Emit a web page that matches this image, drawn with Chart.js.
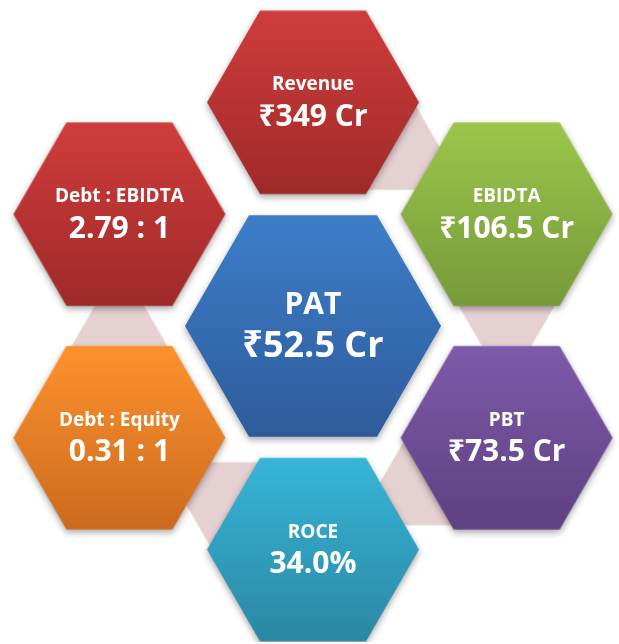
<!DOCTYPE html>
<html>
<head>
<meta charset="utf-8">
<script src="https://cdn.jsdelivr.net/npm/chart.js@4/dist/chart.umd.min.js"></script>
<style>
  html, body { margin: 0; padding: 0; background: #ffffff; }
  #wrap { width: 619px; height: 644px; position: relative; }
</style>
</head>
<body>
<div id="wrap"><canvas id="c"></canvas></div>
<script>
// ---- data ----
const centerNames  = ['PAT'];
const centerValues = [52.5];
const centerUnits  = ['cr'];
const metricNames  = ['Revenue', 'EBIDTA', 'PBT', 'ROCE', 'Debt : Equity', 'Debt : EBIDTA'];
const metricValues = [349, 106.5, 73.5, 34.0, 0.31, 2.79];
const metricUnits  = ['cr', 'cr', 'cr', 'pct', 'ratio', 'ratio'];

// ---- styles ----
const metricColors = [
  ['#CF3D3B', '#9F2A2A'],
  ['#9CC64B', '#769A3A'],
  ['#7E5AAA', '#5E4181'],
  ['#38B5D8', '#2A88A3'],
  ['#FE912E', '#CC6B1E'],
  ['#CF3D3B', '#9F2A2A']
];
const centerColors = [['#3D7EC9', '#2E5B9B']];
const connectorColor = '#E6D1D2';
const FONT = '"Open Sans", "Noto Sans", "DejaVu Sans", sans-serif';

function fmt(v, unit) {
  if (unit === 'cr') return '\u20B9' + v + ' Cr';
  if (unit === 'pct') return v.toFixed(1) + '%';
  return v.toFixed(2) + ' : 1';
}

// ---- layout (unit ring radius) ----
const n = metricNames.length;
const outerPts = metricNames.map((_, i) => {
  const a = (90 - 60 * i) * Math.PI / 180;
  return { x: Math.cos(a), y: Math.sin(a) };
});
const centerPts = centerNames.map(() => ({ x: 0, y: 0 }));
const tangentShift = 0.098;
// connectors between consecutive outer hexagons (no wrap-around)
const connectorPts = outerPts.slice(0, n - 1).map((p, i) => {
  const q = outerPts[i + 1];
  const mx = (p.x + q.x) / 2, my = (p.y + q.y) / 2;
  const len = Math.hypot(mx, my);
  const ux = mx / len, uy = my / len;
  return { x: mx - uy * tangentShift, y: my + ux * tangentShift };
});

function hexCanvas(r, c1, c2, shadow) {
  const m = 14;
  const size = Math.ceil(2 * (r + m));
  const cv = document.createElement('canvas');
  cv.width = size; cv.height = size;
  const ctx = cv.getContext('2d');
  const cx = size / 2, cy = size / 2;
  const h = r * Math.sqrt(3) / 2;
  ctx.beginPath();
  for (let k = 0; k < 6; k++) {
    const a = k * Math.PI / 3;
    const x = cx + r * Math.cos(a), y = cy + r * Math.sin(a);
    if (k === 0) ctx.moveTo(x, y); else ctx.lineTo(x, y);
  }
  ctx.closePath();
  const g = ctx.createLinearGradient(0, cy - h, 0, cy + h);
  g.addColorStop(0, c1);
  g.addColorStop(1, c2);
  ctx.fillStyle = g;
  if (shadow) {
    ctx.shadowColor = 'rgba(0,0,0,0.35)';
    ctx.shadowBlur = 7;
    ctx.shadowOffsetY = 3;
  }
  ctx.fill();
  return cv;
}

const outerStyles = metricColors.map(c => hexCanvas(106, c[0], c[1], true));
const centerStyles = centerColors.map(c => hexCanvas(128, c[0], c[1], true));
const connectorStyles = connectorPts.map(() => hexCanvas(49, connectorColor, connectorColor, false));

const textPlugin = {
  id: 'hexText',
  afterDatasetsDraw(chart) {
    const ctx = chart.ctx;
    ctx.save();
    ctx.fillStyle = '#ffffff';
    ctx.textAlign = 'center';
    ctx.textBaseline = 'alphabetic';
    const outerMeta = chart.getDatasetMeta(1);
    outerMeta.data.forEach((el, i) => {
      ctx.font = 'bold 19px ' + FONT;
      ctx.fillText(metricNames[i], el.x, el.y - 12);
      ctx.font = 'bold 30px ' + FONT;
      ctx.fillText(fmt(metricValues[i], metricUnits[i]), el.x, el.y + 23.5);
    });
    const cMeta = chart.getDatasetMeta(0);
    cMeta.data.forEach((el, i) => {
      ctx.font = 'bold 30px ' + FONT;
      ctx.fillText(centerNames[i], el.x, el.y - 12);
      ctx.font = 'bold 36px ' + FONT;
      ctx.fillText(fmt(centerValues[i], centerUnits[i]), el.x, el.y + 31);
    });
    ctx.restore();
  }
};

const W = 619, H = 644, CX = 313, CY = 326, RING = 225;

new Chart(document.getElementById('c'), {
  type: 'scatter',
  data: {
    datasets: [
      { label: 'center', data: centerPts, pointStyle: centerStyles, pointRadius: 1, pointHoverRadius: 1 },
      { label: 'metrics', data: outerPts, pointStyle: outerStyles, pointRadius: 1, pointHoverRadius: 1 },
      { label: 'connectors', data: connectorPts, pointStyle: connectorStyles, pointRadius: 1, pointHoverRadius: 1 }
    ]
  },
  options: {
    responsive: true,
    maintainAspectRatio: false,
    animation: false,
    events: [],
    layout: { padding: 0 },
    plugins: { legend: { display: false }, tooltip: { enabled: false } },
    scales: {
      x: { type: 'linear', display: false, min: -CX / RING, max: (W - CX) / RING },
      y: { type: 'linear', display: false, min: -(H - CY) / RING, max: CY / RING }
    }
  },
  plugins: [textPlugin]
});
</script>
</body>
</html>
